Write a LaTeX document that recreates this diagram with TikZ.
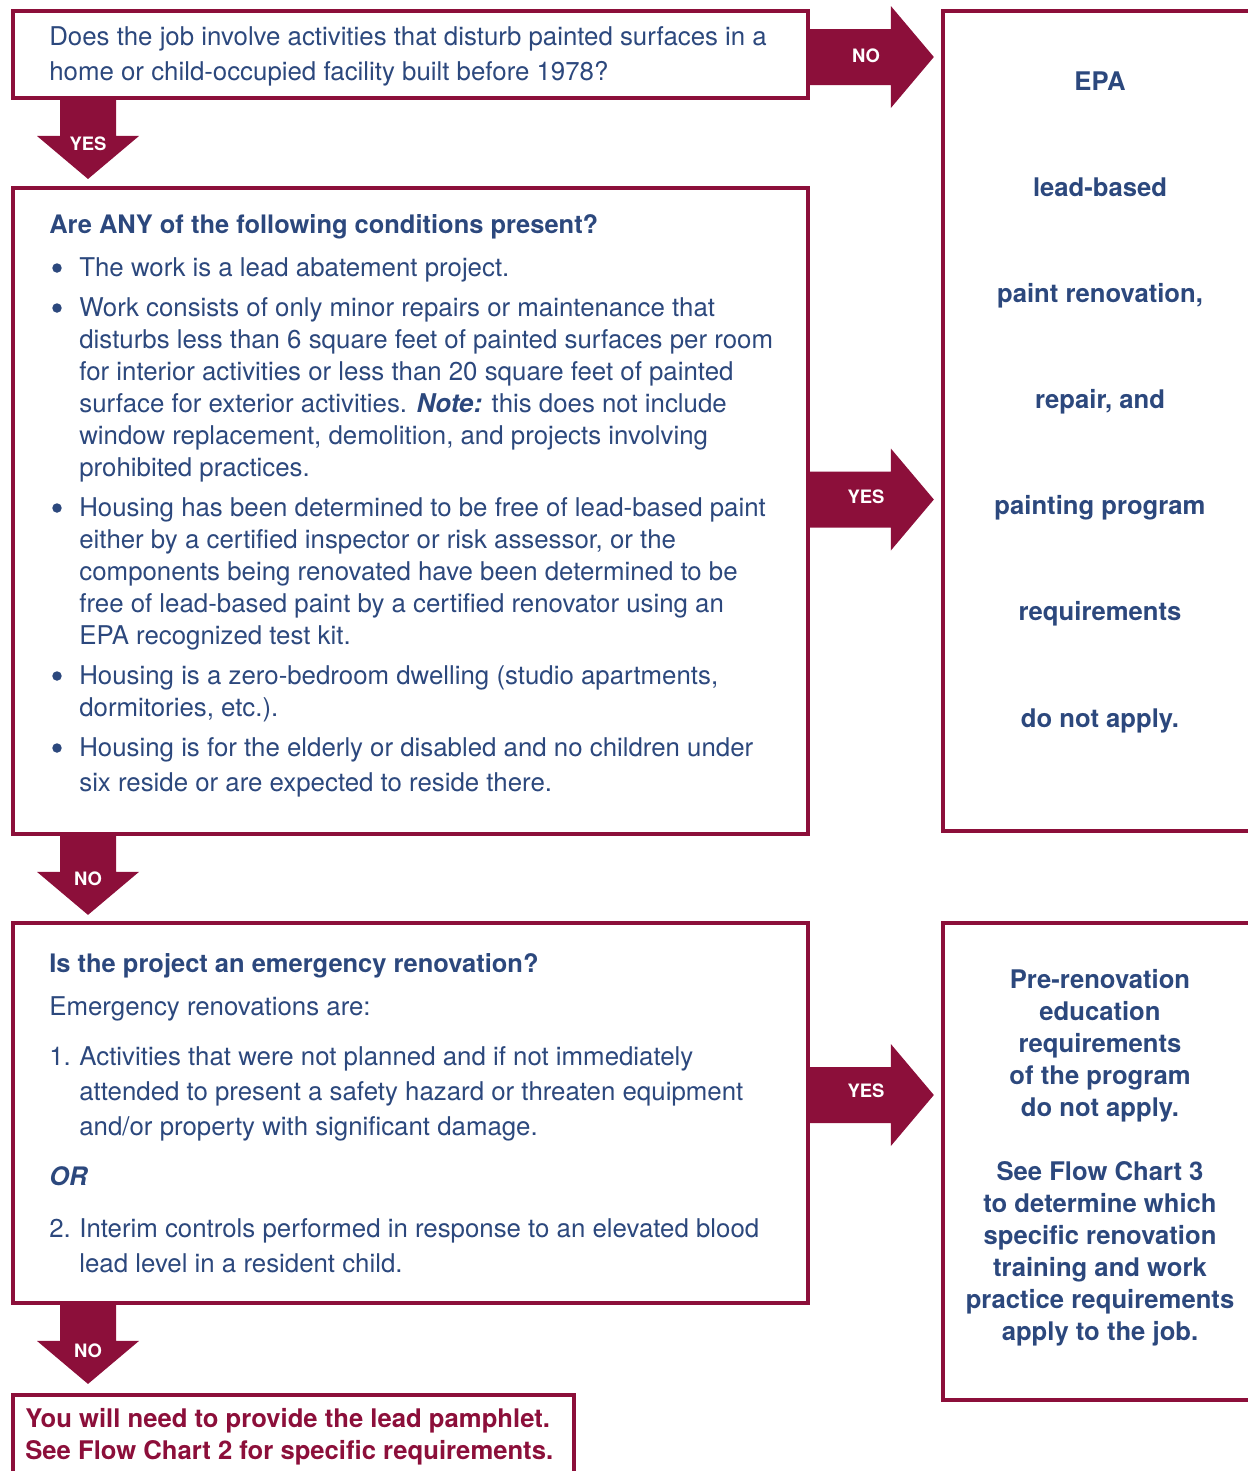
\documentclass[tikz,border=0pt]{standalone}
\usepackage{fontspec}
\setmainfont{TeX Gyre Heros}
\usepackage{tikz}
\usetikzlibrary{calc}
\definecolor{leadred}{RGB}{140,15,58}
\definecolor{leadblue}{RGB}{44,72,125}
\tikzset{
    qbox/.style={draw=leadred, line width=0.08cm, inner sep=0pt, outer sep=0pt, anchor=north west},
    openbox/.style={inner sep=0pt, outer sep=0pt, anchor=north west},
    border/.style={draw=leadred, line width=0.08cm},
    fat/.style={fill=leadred},
    fatlabel/.style={text=white, inner sep=0pt, font=\bfseries\fontsize{10.5}{12}\selectfont},
    dot/.style={circle, fill=leadblue, inner sep=0pt, minimum size=0.19cm},
    qtext/.style={text=leadblue, inner sep=0pt, anchor=base west, align=left, font=\fontsize{14.7}{18.2}\selectfont},
    qloose/.style={qtext, font=\fontsize{14.7}{19.9}\selectfont},
    qhead/.style={qtext, font=\bfseries\fontsize{14.5}{18.2}\selectfont},
    answer/.style={text=leadblue, inner sep=0pt, anchor=base, align=center, font=\bfseries\fontsize{14.6}{18.2}\selectfont},
}

\begin{document}
\begin{tikzpicture}[x=0.02cm, y=-0.02cm]
\useasboundingbox (0,0) rectangle (1248,1471);

\node[qbox, minimum width=15.9cm, minimum height=1.74cm] (q1) at (13,11) {};
\node[qbox, minimum width=15.9cm, minimum height=12.93cm] (q2) at (13,187.5) {};
\node[qbox, minimum width=15.9cm, minimum height=7.6cm] (q3) at (13,923) {};
\node[openbox, minimum width=11.22cm, minimum height=1.52cm] (q4) at (13,1395) {};
\draw[border] (q4.south west) -- (q4.north west) -- (q4.north east) -- (q4.south east);
\node[openbox, minimum width=6.1cm, minimum height=16.4cm] (r1) at (943,11) {};
\draw[border] (r1.north east) -- (r1.north west) -- (r1.south west) -- (r1.south east);
\node[openbox, minimum width=6.1cm, minimum height=9.54cm] (r2) at (943,923) {};
\draw[border] (r2.north east) -- (r2.north west) -- (r2.south west) -- (r2.south east);

\fill[fat] ($(q1.south west)+(47,0)$) -- ++(0,38) -- ++(-23,0) -- ++(51,43) -- ++(51,-43) -- ++(-23,0) -- ++(0,-38) -- cycle;
\fill[fat] ($(q2.south west)+(47,0)$) -- ++(0,38) -- ++(-23,0) -- ++(51,43) -- ++(51,-43) -- ++(-23,0) -- ++(0,-38) -- cycle;
\fill[fat] ($(q3.south west)+(47,0)$) -- ++(0,38) -- ++(-23,0) -- ++(51,43) -- ++(51,-43) -- ++(-23,0) -- ++(0,-38) -- cycle;
\fill[fat] ($(q1.north east)+(0,18)$) -- ++(83,0) -- ++(0,-23) -- ++(43,51) -- ++(-43,51) -- ++(0,-23) -- ++(-83,0) -- cycle;
\fill[fat] ($(q2.north east)+(0,284)$) -- ++(83,0) -- ++(0,-23) -- ++(43,51) -- ++(-43,51) -- ++(0,-23) -- ++(-83,0) -- cycle;
\fill[fat] ($(q3.north east)+(0,144)$) -- ++(83,0) -- ++(0,-23) -- ++(43,51) -- ++(-43,51) -- ++(0,-23) -- ++(-83,0) -- cycle;

\node[fatlabel] (l1) at (88,144) {YES};
\node[fatlabel] (l2) at (88,879) {NO};
\node[fatlabel] (l3) at (88,1351) {NO};
\node[fatlabel] (l4) at (866,55.5) {NO};
\node[fatlabel] (l5) at (866,496.5) {YES};
\node[fatlabel] (l6) at (866,1091) {YES};

\node[qloose] (t1) at (49,80) {Does the job involve activities that disturb painted surfaces in a\\home or child-occupied facility built before 1978?};

\node[qhead] (h2) at (49,233) {Are ANY of the following conditions present?};
\node[dot] (d1) at (57,268) {};
\node[qtext] (c1) at (79,276) {The work is a lead abatement project.};
\node[dot] (d2) at (57,308) {};
\node[qtext] (c2) at (79,476) {Work consists of only minor repairs or maintenance that\\disturbs less than 6 square feet of painted surfaces per room\\for interior activities or less than 20 square feet of painted\\surface for exterior activities. \textbf{\textit{Note:}} this does not include\\window replacement, demolition, and projects involving\\prohibited practices.};
\node[dot] (d3) at (57,508) {};
\node[qtext] (c3) at (79,644) {Housing has been determined to be free of lead-based paint\\either by a certified inspector or risk assessor, or the\\components being renovated have been determined to be\\free of lead-based paint by a certified renovator using an\\EPA recognized test kit.};
\node[dot] (d4) at (57,676) {};
\node[qtext] (c4) at (79,716) {Housing is a zero-bedroom dwelling (studio apartments,\\dormitories, etc.).};
\node[dot] (d5) at (57,748) {};
\node[qloose] (c5) at (79,791) {Housing is for the elderly or disabled and no children under\\six reside or are expected to reside there.};

\node[qhead] (h3) at (49,972) {Is the project an emergency renovation?};
\node[qtext] (e0) at (49,1015) {Emergency renovations are:};
\node[qtext] (n1) at (49,1065) {1.};
\node[qloose] (e1) at (79,1135) {Activities that were not planned and if not immediately\\attended to present a safety hazard or threaten equipment\\and/or property with significant damage.};
\node[qhead] (or) at (49,1185) {\itshape OR};
\node[qtext] (n2) at (49,1237) {2.};
\node[qloose] (e2) at (79,1272) {Interim controls performed in response to an elevated blood\\lead level in a resident child.};

\node[qhead, text=leadred, font=\bfseries\fontsize{14.6}{18.2}\selectfont] (t4) at (25,1459) {You will need to provide the lead pamphlet.\\See Flow Chart 2 for specific requirements.};

\node[answer, font=\bfseries\fontsize{14.6}{60.4}\selectfont] (a1) at (1100,727) {EPA\\lead-based\\paint renovation,\\repair, and\\painting program\\requirements\\do not apply.};
\node[answer] (a2) at (1100,1340) {Pre-renovation\\education\\requirements\\of the program\\do not apply.\\[0.64cm]See Flow Chart 3\\to determine which\\specific renovation\\training and work\\practice requirements\\apply to the job.};
\end{tikzpicture}
\end{document}
